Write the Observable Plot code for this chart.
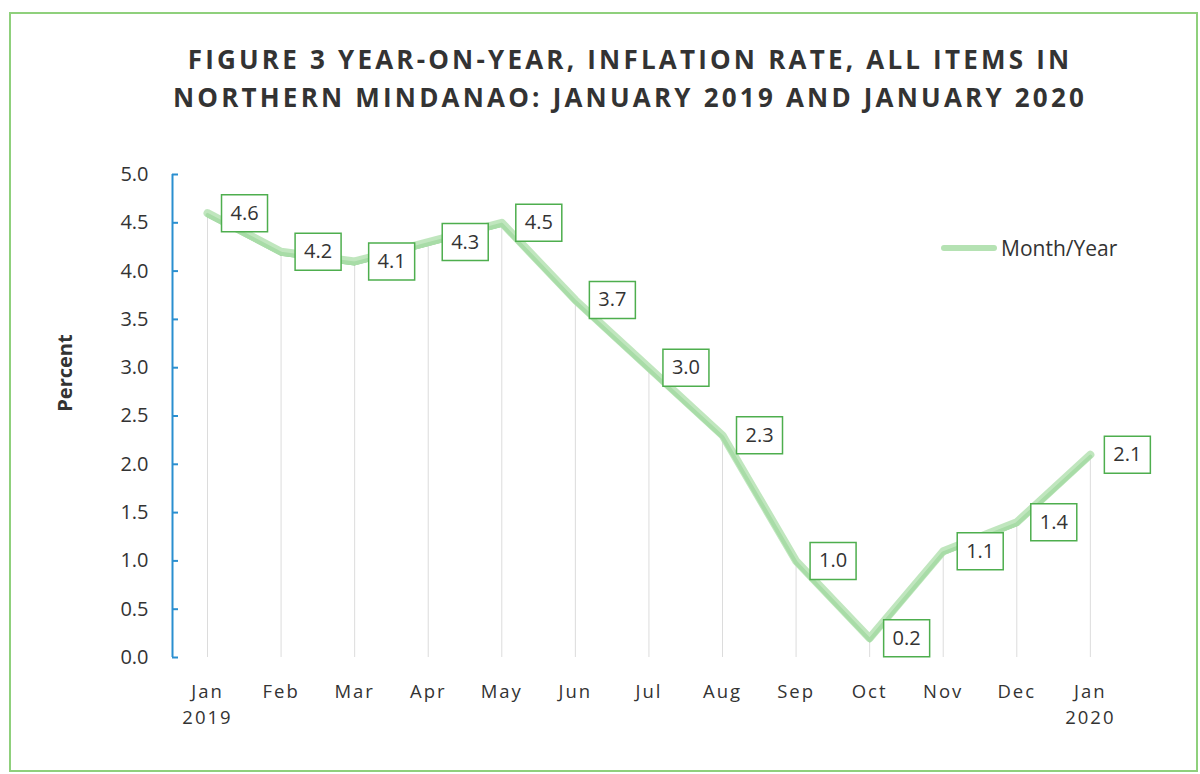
<!DOCTYPE html>
<html>
<head>
<meta charset="utf-8">
<script src="https://cdn.jsdelivr.net/npm/d3@7"></script>
<script src="https://cdn.jsdelivr.net/npm/@observablehq/plot@0.6"></script>
<style>
  html, body { margin: 0; padding: 0; background: #fff; }
  body { width: 1200px; height: 774px; position: relative; overflow: hidden; font-family: "Open Sans", "Noto Sans", sans-serif; color: #333; }
  #border { position: absolute; left: 9px; top: 12px; width: 1189px; height: 760px; border: 2px solid #8fd07c; box-sizing: border-box; }
  #title { position: absolute; left: 0; top: 40px; width: 1200px; text-align: center; font-weight: 700; font-size: 26px; line-height: 38px; letter-spacing: 3.2px; color: #333; padding-left: 60px; box-sizing: border-box; white-space: nowrap; }
  #chart { position: absolute; left: 0; top: 130px; }
  #legend { position: absolute; left: 941px; top: 234px; display: flex; align-items: center; font-size: 21px; color: #333; }
  #legend .sw { width: 56px; height: 6px; background: #b5e2b3; border-radius: 3px; margin-right: 4px; }
  #chart svg g[aria-label="x-axis tick label"] text { letter-spacing: 2px; }
</style>
</head>
<body>
<div id="border"></div>
<div id="title">FIGURE 3 YEAR-ON-YEAR, INFLATION RATE, ALL ITEMS IN<br>NORTHERN MINDANAO: JANUARY 2019 AND JANUARY 2020</div>
<div id="chart"></div>
<div id="legend"><div class="sw"></div><div>Month/Year</div></div>
<script>
const months = ["Jan\n2019", "Feb", "Mar", "Apr", "May", "Jun", "Jul", "Aug", "Sep", "Oct", "Nov", "Dec", "Jan\n2020"];
const rates = [4.6, 4.2, 4.1, 4.3, 4.5, 3.7, 3.0, 2.3, 1.0, 0.2, 1.1, 1.4, 2.1];
const yTicks = [0, 0.5, 1, 1.5, 2, 2.5, 3, 3.5, 4, 4.5, 5];

const data = rates.map((v, i) => ({i, v, m: months[i]}));
const xMin = -0.476;
const boxSymbol = { draw(ctx) { ctx.rect(-23, -18.5, 46, 37); } };

const plot = Plot.plot({
  width: 1200,
  height: 644,
  marginLeft: 172,
  marginRight: 66,
  marginTop: 44,
  marginBottom: 117,
  style: { fontFamily: "'Open Sans', 'Noto Sans', sans-serif", color: "#333", background: "transparent" },
  x: { domain: [xMin, 12.6], axis: null },
  y: { domain: [0, 5], axis: null },
  marks: [
    Plot.ruleX(data, { x: "i", y1: 0, y2: "v", stroke: "#dcdcdc", strokeWidth: 1 }),
    Plot.ruleX([xMin], { y1: 0, y2: 5, stroke: "#2a8fd0", strokeWidth: 2 }),
    Plot.axisY({ ticks: yTicks, tickSize: -6, stroke: "#2a8fd0", strokeWidth: 2, tickFormat: () => "", label: null }),
    Plot.axisY({ ticks: yTicks, tickSize: 0, tickPadding: 24, tickFormat: d3.format(".1f"), fontSize: 20, fill: "#333", label: null }),
    Plot.axisX({ ticks: d3.range(13), tickSize: 0, tickPadding: 22, tickFormat: i => months[i], fontSize: 18.5, fill: "#333", lineAnchor: "top", lineHeight: 1.4, label: null }),
    Plot.text(["Percent"], { frameAnchor: "left", dx: -107, dy: -43, rotate: -90, textAnchor: "middle", fontWeight: 700, fontSize: 20, fill: "#333" }),
    Plot.line(data, { x: "i", y: "v", stroke: "#5dbb63", strokeWidth: 4, dy: 2, strokeLinejoin: "round" }),
    Plot.line(data, { x: "i", y: "v", stroke: "#b5e2b3", strokeWidth: 8, strokeOpacity: 0.85, strokeLinejoin: "round", strokeLinecap: "round" }),
    Plot.dot(data, { x: "i", y: "v", dx: 37, symbol: boxSymbol, r: 5, fill: "white", stroke: "#4eae4e", strokeWidth: 1.5 }),
    Plot.text(data, { x: "i", y: "v", dx: 37, text: d => d3.format(".1f")(d.v), fontSize: 20, fill: "#333" })
  ]
});
document.getElementById("chart").appendChild(plot);
</script>
</body>
</html>
